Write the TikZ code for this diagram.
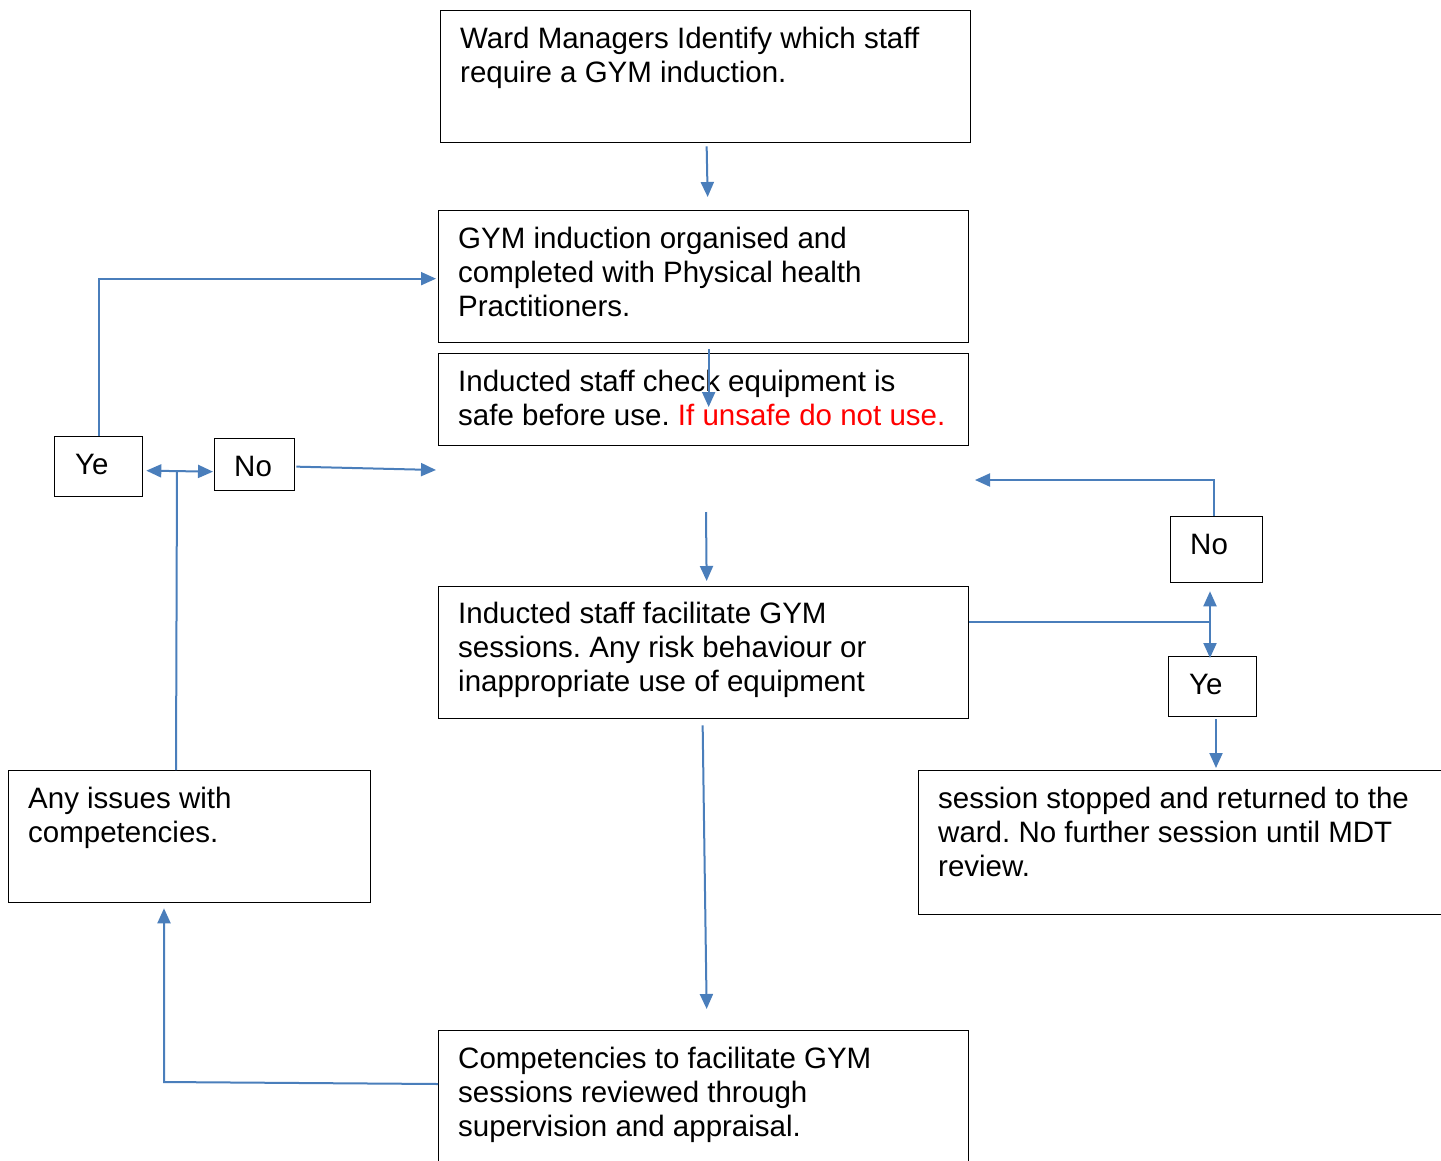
\documentclass[tikz,border=0pt]{standalone}
\usepackage{fontspec}
\setmainfont{Liberation Sans}
\usetikzlibrary{arrows.meta,calc}
\definecolor{lnblue}{HTML}{4A7EBB}
\definecolor{warnred}{HTML}{FF0000}
\newcommand{\fstrut}{\rule{0pt}{22pt}}
\frenchspacing
\begin{document}
\begin{tikzpicture}[x=1pt,y=-1pt,
  box/.style={draw=black,line width=1.3pt,rectangle,inner sep=0pt,anchor=north west},
  txt/.style={inner sep=0pt,anchor=north west,align=left,font=\fontsize{29.5}{34}\selectfont},
  conn/.style={draw=lnblue,line width=2pt},
  arr/.style={conn,-{Triangle[length=15pt,width=13pt]}},
  darr/.style={conn,{Triangle[length=15pt,width=13pt]}-{Triangle[length=15pt,width=13pt]}}]
\clip (0,0) rectangle (1441,1160);
\fill[white] (0,0) rectangle (1441,1160);

% main boxes
\node[box,minimum width=530,minimum height=132] (b1) at (440,10) {};
\node[txt] (t1) at (460,26) {\fstrut Ward Managers Identify which staff\\require a GYM induction.};

\node[box,minimum width=530,minimum height=132] (b2) at (438,210) {};
\node[txt] (t2) at (458,226) {\fstrut GYM induction organised and\\completed with Physical health\\Practitioners.};

\node[box,minimum width=530,minimum height=92] (b3) at (438,353) {};
\node[txt] (t3) at (458,369) {\fstrut Inducted staff check equipment is\\safe before use. \textcolor{warnred}{If unsafe do not use.}};

\node[box,minimum width=530,minimum height=132] (b4) at (438,586) {};
\node[txt] (t4) at (458,601) {\fstrut Inducted staff facilitate GYM\\sessions. Any risk behaviour or\\inappropriate use of equipment};

\node[box,minimum width=530,minimum height=150] (b5) at (438,1030) {};
\node[txt] (t5) at (458,1046) {\fstrut Competencies to facilitate GYM\\sessions reviewed through\\supervision and appraisal.};

\node[box,minimum width=362,minimum height=132] (b6) at (8,770) {};
\node[txt] (t6) at (28,786) {\fstrut Any issues with\\competencies.};

\node[box,minimum width=540,minimum height=144] (b7) at (918,770) {};
\node[txt] (t7) at (938,786) {\fstrut session stopped and returned to the\\ward. No further session until MDT\\review.};

% small decision boxes
\node[box,minimum width=88,minimum height=60] (ye1) at (54,436) {};
\node[txt] (tye1) at (75,452) {\fstrut Ye};
\node[box,minimum width=80,minimum height=52] (no1) at (214,438) {};
\node[txt] (tno1) at (234,454) {\fstrut No};
\node[box,minimum width=92,minimum height=66] (no2) at (1170,516) {};
\node[txt] (tno2) at (1190,532) {\fstrut No};
\node[box,minimum width=88,minimum height=60] (ye2) at (1168,656) {};
\node[txt] (tye2) at (1189,672) {\fstrut Ye};

% coordinates for free ends
\coordinate (a1s) at ($(b1.south)+(1,3)$);
\coordinate (a1e) at ($(b2.north)+(4,-13)$);
\coordinate (a2s) at ($(b2.south)+(5,6)$);
\coordinate (a2e) at ($(b3.north)+(5,54)$);
\coordinate (gapA) at (706,512);
\coordinate (a3e) at ($(b4.north)+(3,-5)$);
\coordinate (loopT) at ($(b2.west)+(-2,2)$);
\coordinate (dl) at ($(ye1.east)+(3,4)$);
\coordinate (dr) at ($(no1.west)+(-1,7)$);
\coordinate (junL) at (177,471);
\coordinate (b6t) at ($(b6.north west)+(168,0)$);
\coordinate (noEnd) at (436,470);
\coordinate (no2t) at ($(no2.north west)+(44,0)$);
\coordinate (retR) at (975,480);
\coordinate (b4r) at ($(b4.north east)+(0,36)$);
\coordinate (junR) at (1210,622);
\coordinate (upE) at ($(no2.south west)+(40,8)$);
\coordinate (dnE) at ($(ye2.north west)+(42,2)$);
\coordinate (ye2b) at ($(ye2.south west)+(48,2)$);
\coordinate (b7t) at ($(b7.north west)+(298,-2)$);
\coordinate (b4b) at ($(b4.south)+(-1,6)$);
\coordinate (b5t) at ($(b5.north)+(3,-21)$);
\coordinate (b5l) at ($(b5.north west)+(0,54)$);
\coordinate (cornL) at (164,1082);
\coordinate (b6b) at ($(b6.south west)+(156,5)$);

% connectors
\draw[arr] (a1s) -- (a1e);
\draw[arr] (a2s) -- (a2e);
\draw[arr] (ye1.north) |- (loopT);
\draw[darr] (dl) -- (dr);
\draw[conn] (b6t) -- (junL);
\draw[arr] ($(no1.east)+(1,2)$) -- (noEnd);
\draw[arr] (gapA) -- (a3e);
\draw[arr] (no2t) |- (retR);
\draw[conn] (b4r) -- (junR);
\draw[arr] (junR) -- (upE);
\draw[arr] (junR) -- (dnE);
\draw[arr] (ye2b) -- (b7t);
\draw[arr] (b4b) -- (b5t);
\draw[arr] (b5l) -- (cornL) -- (b6b);
\end{tikzpicture}
\end{document}
